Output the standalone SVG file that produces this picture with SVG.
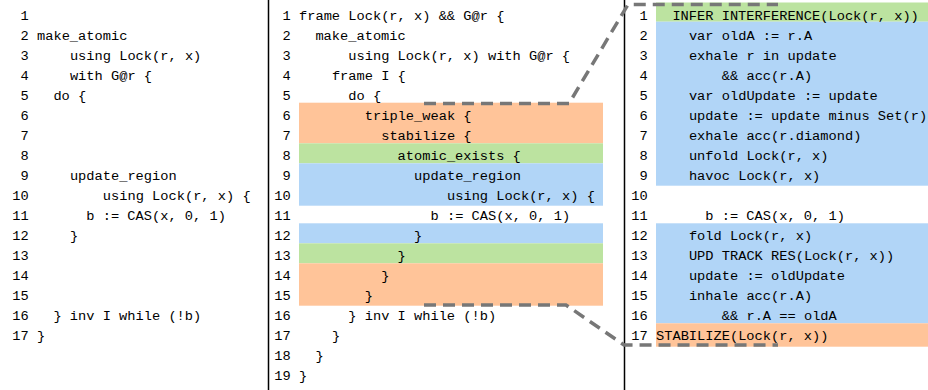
<svg xmlns="http://www.w3.org/2000/svg" width="928" height="390" viewBox="0 0 928 390">
<style>
text{font-family:"Liberation Mono","DejaVu Sans Mono",monospace;font-size:13.7px;fill:#000}
.n{text-anchor:end}
.or{fill:#FFC499}
.gr{fill:#BCE3A0}
.bl{fill:#B1D5F7}
.sep{stroke:#000;stroke-width:1.5;fill:none}
.dash{stroke:#777;stroke-width:3.5;fill:none;stroke-dasharray:12 7}
</style>
<rect width="928" height="390" fill="#fff"/>
<g id="separators">
<line class="sep" x1="268.5" y1="0" x2="268.5" y2="390"/>
<line class="sep" x1="624.5" y1="0" x2="624.5" y2="390"/>
</g>
<g id="left-panel">
<text class="n" x="28.8" y="19.5">1</text>
<text class="n" x="28.8" y="39.5">2</text><text x="37" y="39.5">make_atomic</text>
<text class="n" x="28.8" y="59.5">3</text><text x="69.9" y="59.5">using Lock(r, x)</text>
<text class="n" x="28.8" y="79.5">4</text><text x="69.9" y="79.5">with G@r {</text>
<text class="n" x="28.8" y="99.5">5</text><text x="53.4" y="99.5">do {</text>
<text class="n" x="28.8" y="119.5">6</text>
<text class="n" x="28.8" y="139.5">7</text>
<text class="n" x="28.8" y="159.5">8</text>
<text class="n" x="28.8" y="179.5">9</text><text x="69.9" y="179.5">update_region</text>
<text class="n" x="28.8" y="199.5">10</text><text x="102.8" y="199.5">using Lock(r, x) {</text>
<text class="n" x="28.8" y="219.5">11</text><text x="86.3" y="219.5">b := CAS(x, 0, 1)</text>
<text class="n" x="28.8" y="239.5">12</text><text x="69.9" y="239.5">}</text>
<text class="n" x="28.8" y="259.5">13</text>
<text class="n" x="28.8" y="279.5">14</text>
<text class="n" x="28.8" y="299.5">15</text>
<text class="n" x="28.8" y="319.5">16</text><text x="53.4" y="319.5">} inv I while (!b)</text>
<text class="n" x="28.8" y="339.5">17</text><text x="37" y="339.5">}</text>
</g>
<g id="middle-panel">
<rect class="or" x="299" y="102.7" width="304" height="40.6"/>
<rect class="gr" x="299" y="143.3" width="304" height="20"/>
<rect class="bl" x="299" y="163.3" width="304" height="42.4"/>
<rect class="bl" x="299" y="223.3" width="304" height="20"/>
<rect class="gr" x="299" y="243.3" width="304" height="20"/>
<rect class="or" x="299" y="263.3" width="304" height="42.4"/>
<text class="n" x="290.8" y="19.5">1</text><text x="299" y="19.5">frame Lock(r, x) &amp;&amp; G@r {</text>
<text class="n" x="290.8" y="39.5">2</text><text x="315.4" y="39.5">make_atomic</text>
<text class="n" x="290.8" y="59.5">3</text><text x="348.3" y="59.5">using Lock(r, x) with G@r {</text>
<text class="n" x="290.8" y="79.5">4</text><text x="331.9" y="79.5">frame I {</text>
<text class="n" x="290.8" y="99.5">5</text><text x="348.3" y="99.5">do {</text>
<text class="n" x="290.8" y="119.5">6</text><text x="364.8" y="119.5">triple_weak {</text>
<text class="n" x="290.8" y="139.5">7</text><text x="381.2" y="139.5">stabilize {</text>
<text class="n" x="290.8" y="159.5">8</text><text x="397.6" y="159.5">atomic_exists {</text>
<text class="n" x="290.8" y="179.5">9</text><text x="414.1" y="179.5">update_region</text>
<text class="n" x="290.8" y="199.5">10</text><text x="447" y="199.5">using Lock(r, x) {</text>
<text class="n" x="290.8" y="219.5">11</text><text x="430.5" y="219.5">b := CAS(x, 0, 1)</text>
<text class="n" x="290.8" y="239.5">12</text><text x="414.1" y="239.5">}</text>
<text class="n" x="290.8" y="259.5">13</text><text x="397.6" y="259.5">}</text>
<text class="n" x="290.8" y="279.5">14</text><text x="381.2" y="279.5">}</text>
<text class="n" x="290.8" y="299.5">15</text><text x="364.8" y="299.5">}</text>
<text class="n" x="290.8" y="319.5">16</text><text x="348.3" y="319.5">} inv I while (!b)</text>
<text class="n" x="290.8" y="339.5">17</text><text x="331.9" y="339.5">}</text>
<text class="n" x="290.8" y="359.5">18</text><text x="315.4" y="359.5">}</text>
<text class="n" x="290.8" y="379.5">19</text><text x="299" y="379.5">}</text>
</g>
<g id="right-panel">
<rect class="gr" x="656" y="2.5" width="272" height="19.2"/>
<rect class="bl" x="656" y="21.7" width="272" height="164"/>
<rect class="bl" x="656" y="223.3" width="272" height="100"/>
<rect class="or" x="656" y="323.3" width="272" height="23.4"/>
<text class="n" x="647.8" y="19.5">1</text><text x="672.4" y="19.5">INFER INTERFERENCE(Lock(r, x))</text>
<text class="n" x="647.8" y="39.5">2</text><text x="688.9" y="39.5">var oldA := r.A</text>
<text class="n" x="647.8" y="59.5">3</text><text x="688.9" y="59.5">exhale r in update</text>
<text class="n" x="647.8" y="79.5">4</text><text x="721.8" y="79.5">&amp;&amp; acc(r.A)</text>
<text class="n" x="647.8" y="99.5">5</text><text x="688.9" y="99.5">var oldUpdate := update</text>
<text class="n" x="647.8" y="119.5">6</text><text x="688.9" y="119.5">update := update minus Set(r)</text>
<text class="n" x="647.8" y="139.5">7</text><text x="688.9" y="139.5">exhale acc(r.diamond)</text>
<text class="n" x="647.8" y="159.5">8</text><text x="688.9" y="159.5">unfold Lock(r, x)</text>
<text class="n" x="647.8" y="179.5">9</text><text x="688.9" y="179.5">havoc Lock(r, x)</text>
<text class="n" x="647.8" y="199.5">10</text>
<text class="n" x="647.8" y="219.5">11</text><text x="705.3" y="219.5">b := CAS(x, 0, 1)</text>
<text class="n" x="647.8" y="239.5">12</text><text x="688.9" y="239.5">fold Lock(r, x)</text>
<text class="n" x="647.8" y="259.5">13</text><text x="688.9" y="259.5">UPD TRACK RES(Lock(r, x))</text>
<text class="n" x="647.8" y="279.5">14</text><text x="688.9" y="279.5">update := oldUpdate</text>
<text class="n" x="647.8" y="299.5">15</text><text x="688.9" y="299.5">inhale acc(r.A)</text>
<text class="n" x="647.8" y="319.5">16</text><text x="721.8" y="319.5">&amp;&amp; r.A == oldA</text>
<text class="n" x="647.8" y="339.5">17</text><text x="656" y="339.5">STABILIZE(Lock(r, x))</text>
</g>
<g id="connectors">
<polyline class="dash" points="424,103.5 569,103.5 628,4.5 778,4.5"/>
<polyline class="dash" points="424,305 566,305 624,345 778,345"/>
</g>
</svg>
